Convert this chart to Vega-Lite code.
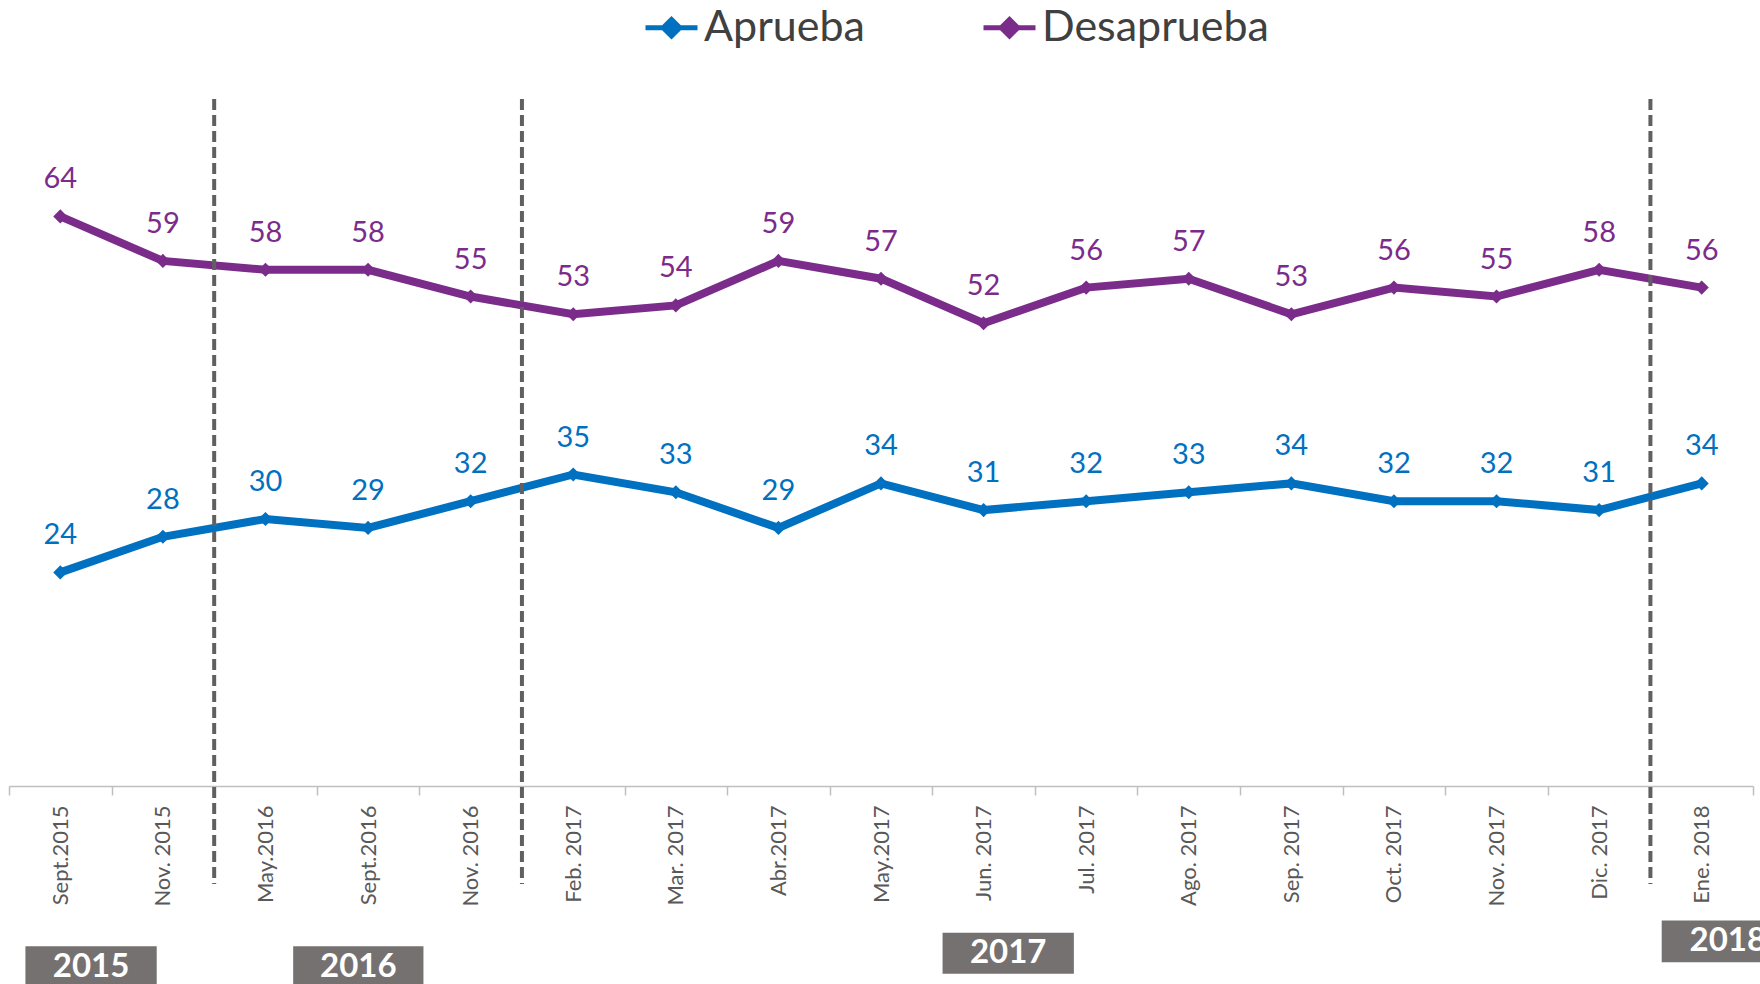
{
  "$schema": "https://vega.github.io/schema/vega-lite/v6.json",
  "width": 1744,
  "height": 712,
  "autosize": {"type": "none"},
  "padding": {"left": 9, "top": 74, "right": 7, "bottom": 198},
  "background": "white",
  "config": {"view": {"stroke": null}, "font": "Lato"},
  "datasets": {
    "puntos": [
      {"fecha": "Sept.2015", "serie": "Aprueba", "valor": 24},
      {"fecha": "Nov. 2015", "serie": "Aprueba", "valor": 28},
      {"fecha": "May.2016", "serie": "Aprueba", "valor": 30},
      {"fecha": "Sept.2016", "serie": "Aprueba", "valor": 29},
      {"fecha": "Nov. 2016", "serie": "Aprueba", "valor": 32},
      {"fecha": "Feb. 2017", "serie": "Aprueba", "valor": 35},
      {"fecha": "Mar. 2017", "serie": "Aprueba", "valor": 33},
      {"fecha": "Abr.2017", "serie": "Aprueba", "valor": 29},
      {"fecha": "May.2017", "serie": "Aprueba", "valor": 34},
      {"fecha": "Jun. 2017", "serie": "Aprueba", "valor": 31},
      {"fecha": "Jul. 2017", "serie": "Aprueba", "valor": 32},
      {"fecha": "Ago. 2017", "serie": "Aprueba", "valor": 33},
      {"fecha": "Sep. 2017", "serie": "Aprueba", "valor": 34},
      {"fecha": "Oct. 2017", "serie": "Aprueba", "valor": 32},
      {"fecha": "Nov. 2017", "serie": "Aprueba", "valor": 32},
      {"fecha": "Dic. 2017", "serie": "Aprueba", "valor": 31},
      {"fecha": "Ene. 2018", "serie": "Aprueba", "valor": 34},
      {"fecha": "Sept.2015", "serie": "Desaprueba", "valor": 64},
      {"fecha": "Nov. 2015", "serie": "Desaprueba", "valor": 59},
      {"fecha": "May.2016", "serie": "Desaprueba", "valor": 58},
      {"fecha": "Sept.2016", "serie": "Desaprueba", "valor": 58},
      {"fecha": "Nov. 2016", "serie": "Desaprueba", "valor": 55},
      {"fecha": "Feb. 2017", "serie": "Desaprueba", "valor": 53},
      {"fecha": "Mar. 2017", "serie": "Desaprueba", "valor": 54},
      {"fecha": "Abr.2017", "serie": "Desaprueba", "valor": 59},
      {"fecha": "May.2017", "serie": "Desaprueba", "valor": 57},
      {"fecha": "Jun. 2017", "serie": "Desaprueba", "valor": 52},
      {"fecha": "Jul. 2017", "serie": "Desaprueba", "valor": 56},
      {"fecha": "Ago. 2017", "serie": "Desaprueba", "valor": 57},
      {"fecha": "Sep. 2017", "serie": "Desaprueba", "valor": 53},
      {"fecha": "Oct. 2017", "serie": "Desaprueba", "valor": 56},
      {"fecha": "Nov. 2017", "serie": "Desaprueba", "valor": 55},
      {"fecha": "Dic. 2017", "serie": "Desaprueba", "valor": 58},
      {"fecha": "Ene. 2018", "serie": "Desaprueba", "valor": 56}
    ],
    "cortes": [
      {"fecha": "May.2016"},
      {"fecha": "Feb. 2017"},
      {"fecha": "Ene. 2018"}
    ],
    "anios": [
      {"anio": "2015", "inicio": 0.16, "fin": 1.44, "base": -22.7, "tope": -18.0},
      {"anio": "2016", "inicio": 2.77, "fin": 4.04, "base": -22.7, "tope": -18.0},
      {"anio": "2017", "inicio": 9.10, "fin": 10.38, "base": -21.1, "tope": -16.5},
      {"anio": "2018", "inicio": 16.11, "fin": 17.4, "base": -19.8, "tope": -15.1}
    ]
  },
  "layer": [
    {
      "layer": [
        {
          "data": {"name": "puntos"},
          "encoding": {
            "x": {
              "field": "fecha",
              "type": "nominal",
              "bandPosition": 0.5,
              "scale": {
                "type": "band",
                "paddingInner": 0,
                "paddingOuter": 0,
                "domain": ["Sept.2015", "Nov. 2015", "May.2016", "Sept.2016", "Nov. 2016", "Feb. 2017", "Mar. 2017", "Abr.2017", "May.2017", "Jun. 2017", "Jul. 2017", "Ago. 2017", "Sep. 2017", "Oct. 2017", "Nov. 2017", "Dic. 2017", "Ene. 2018"]
              },
              "axis": {
                "title": null,
                "labelAngle": -90,
                "labelAlign": "right",
                "labelBaseline": "middle",
                "labelFont": "Lato",
                "labelFontSize": 22,
                "labelColor": "#595959",
                "labelPadding": 10,
                "tickBand": "extent",
                "tickSize": 9,
                "tickColor": "#BFBFBF",
                "tickWidth": 1.5,
                "domainColor": "#BFBFBF",
                "domainWidth": 1.5,
                "grid": false
              }
            },
            "y": {
              "field": "valor",
              "type": "quantitative",
              "scale": {"domain": [0, 80], "nice": false, "zero": false},
              "axis": null
            },
            "color": {
              "field": "serie",
              "type": "nominal",
              "scale": {"domain": ["Aprueba", "Desaprueba"], "range": ["#0070C0", "#7B2C8B"]},
              "legend": {
                "title": null,
                "orient": "none",
                "legendX": 634,
                "legendY": -75,
                "direction": "horizontal",
                "padding": 0,
                "symbolType": "M-1,0L1,0M0,-0.32L0.32,0L0,0.32L-0.32,0Z",
                "symbolSize": 2704,
                "symbolStrokeWidth": 5,
                "symbolOpacity": 1,
                "labelFont": "Lato",
                "labelFontSize": 43,
                "labelColor": "#404040",
                "labelOffset": 4,
                "labelLimit": 400,
                "columnPadding": 108
              }
            }
          },
          "layer": [
            {"mark": {"type": "line", "strokeWidth": 8}},
            {"mark": {"type": "point", "shape": "diamond", "filled": true, "size": 200, "opacity": 1}},
            {
              "mark": {"type": "text", "font": "Lato", "fontSize": 29, "baseline": "alphabetic", "align": "center", "dy": -28},
              "encoding": {"text": {"field": "valor", "type": "quantitative"}}
            }
          ]
        },
        {
          "data": {"name": "cortes"},
          "mark": {"type": "rule", "strokeDash": [11, 5], "strokeWidth": 4, "color": "#606060"},
          "encoding": {
            "x": {"field": "fecha", "type": "nominal", "bandPosition": 0},
            "y": {"datum": 77.2},
            "y2": {"datum": -11}
          }
        }
      ]
    },
    {
      "data": {"name": "anios"},
      "layer": [
        {
          "mark": {"type": "rect", "color": "#767171"},
          "encoding": {
            "x": {"field": "inicio", "type": "quantitative", "scale": {"domain": [0, 17], "nice": false, "zero": false}, "axis": null},
            "x2": {"field": "fin"},
            "y": {"field": "base", "type": "quantitative", "axis": null},
            "y2": {"field": "tope"}
          }
        },
        {
          "transform": [
            {"calculate": "(datum.inicio + datum.fin) / 2", "as": "centro"},
            {"calculate": "(datum.base + datum.tope) / 2", "as": "medio"}
          ],
          "mark": {"type": "text", "font": "Lato", "fontWeight": "bold", "fontSize": 33, "color": "white", "baseline": "middle", "align": "center"},
          "encoding": {
            "x": {"field": "centro", "type": "quantitative"},
            "y": {"field": "medio", "type": "quantitative"},
            "text": {"field": "anio"}
          }
        }
      ]
    }
  ],
  "resolve": {"scale": {"x": "independent"}}
}
